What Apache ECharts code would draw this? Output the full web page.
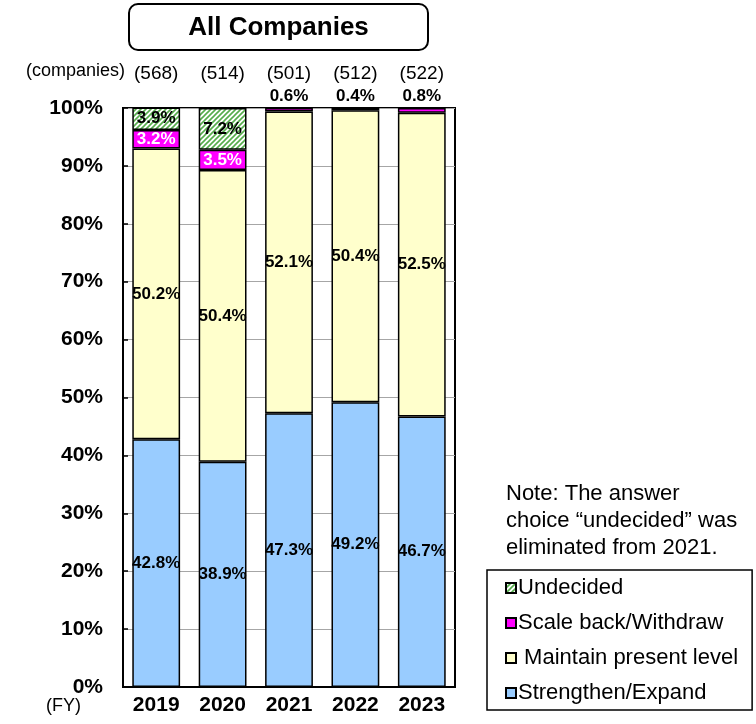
<!DOCTYPE html>
<html>
<head>
<meta charset="utf-8">
<script src="https://cdn.jsdelivr.net/npm/echarts@6/dist/echarts.min.js"></script>
<style>
  html, body { margin: 0; padding: 0; background: #fff; }
  #chart { width: 756px; height: 724px; }
</style>
</head>
<body>
<div id="chart"></div>
<script>
// Survey years and number of responding companies
const years = ['2019', '2020', '2021', '2022', '2023'];
const companyCounts = ['(568)', '(514)', '(501)', '(512)', '(522)'];

// Share of companies by intended business direction (%)
const strengthenExpand = [42.8, 38.9, 47.3, 49.2, 46.7];
const maintainLevel = [50.2, 50.4, 52.1, 50.4, 52.5];
const scaleBackWithdraw = [3.2, 3.5, 0.6, 0.4, 0.8];
const undecided = [3.9, 7.2, null, null, null]; // option dropped from 2021

const yTicks = [0, 10, 20, 30, 40, 50, 60, 70, 80, 90, 100];

const FONT = "'Liberation Sans', Arial, sans-serif";

// Green diagonal hatch used for the "Undecided" segment
function hatchPattern() {
  const s = 5;
  const c = document.createElement('canvas');
  c.width = s; c.height = s;
  const g = c.getContext('2d');
  g.fillStyle = '#ffffff';
  g.fillRect(0, 0, s, s);
  g.strokeStyle = '#56ad4c';
  g.lineWidth = 1.6;
  g.beginPath();
  g.moveTo(-1, s + 1); g.lineTo(s + 1, -1);
  g.moveTo(-1, 1); g.lineTo(1, -1);
  g.moveTo(s - 1, s + 1); g.lineTo(s + 1, s - 1);
  g.stroke();
  return { image: c, repeat: 'repeat' };
}

const pct = v => (v == null ? '' : v.toFixed(1) + '%');

const baseLabel = {
  show: true,
  position: 'inside',
  color: '#000',
  fontFamily: FONT,
  fontWeight: 'bold',
  fontSize: 17,
  formatter: p => pct(p.value)
};

const barStyle = (color) => ({ color: color, borderColor: '#000', borderWidth: 1.5 });

// Small shares are labelled above the bar, larger ones inside in white
const scaleBackData = scaleBackWithdraw.map(v => (
  v < 2
    ? { value: v, label: { position: 'top', color: '#000', distance: 3 } }
    : { value: v, label: { position: 'inside', color: '#fff' } }
));

const chart = echarts.init(document.getElementById('chart'), null, { renderer: 'canvas' });

chart.setOption({
  animation: false,
  backgroundColor: '#fff',
  textStyle: { fontFamily: FONT },
  grid: {
    left: 123, right: 301, top: 108, bottom: 37,
    show: true, borderColor: '#000', borderWidth: 2, backgroundColor: 'transparent'
  },
  legend: {
    orient: 'vertical',
    left: 487, top: 570,
    padding: [7, 14, 6, 18],
    borderColor: '#000', borderWidth: 1.5,
    itemWidth: 10, itemHeight: 10, itemGap: 13,
    icon: 'rect',
    data: ['Undecided', 'Scale back/Withdraw', 'Maintain present level', 'Strengthen/Expand'],
    formatter: name => (name === 'Maintain present level' ? ' ' + name : name),
    textStyle: { fontFamily: FONT, fontSize: 22, lineHeight: 22, color: '#000', padding: [0, 0, 0, -3] }
  },
  xAxis: [
    {
      type: 'category',
      data: years,
      position: 'bottom',
      axisLine: { lineStyle: { color: '#000', width: 2 } },
      axisTick: { inside: true, length: 6, lineStyle: { color: '#000', width: 1.5 } },
      axisLabel: { color: '#000', fontFamily: FONT, fontWeight: 'bold', fontSize: 21, margin: 8 }
    },
    {
      type: 'category',
      data: companyCounts,
      position: 'top',
      axisLine: { show: false },
      axisTick: { show: false },
      splitLine: { show: false },
      axisLabel: { color: '#000', fontFamily: FONT, fontSize: 19, margin: 25 }
    }
  ],
  yAxis: {
    type: 'value',
    min: yTicks[0], max: yTicks[yTicks.length - 1], interval: 10,
    axisLine: { show: true, lineStyle: { color: '#000', width: 2 } },
    axisTick: { show: true, inside: true, length: 5, lineStyle: { color: '#000', width: 1.5 } },
    splitLine: { show: true, lineStyle: { color: '#a6a6a6', width: 1 } },
    axisLabel: {
      color: '#000', fontFamily: FONT, fontWeight: 'bold', fontSize: 21, margin: 20,
      formatter: '{value}%'
    }
  },
  series: [
    {
      name: 'Strengthen/Expand', type: 'bar', stack: 'all', barWidth: '72%',
      data: strengthenExpand, itemStyle: barStyle('#99ccff'), label: baseLabel
    },
    {
      name: 'Maintain present level', type: 'bar', stack: 'all', barWidth: '72%',
      data: maintainLevel, itemStyle: barStyle('#ffffcc'), label: baseLabel
    },
    {
      name: 'Scale back/Withdraw', type: 'bar', stack: 'all', barWidth: '72%',
      data: scaleBackData, itemStyle: barStyle('#ff00ff'), label: baseLabel
    },
    {
      name: 'Undecided', type: 'bar', stack: 'all', barWidth: '72%',
      data: undecided, itemStyle: barStyle(hatchPattern()), label: baseLabel
    }
  ],
  graphic: [
    {
      type: 'group', left: 128, top: 3,
      children: [
        { type: 'rect', shape: { x: 0, y: 0, width: 299, height: 46, r: 9 },
          style: { fill: '#fff', stroke: '#000', lineWidth: 2 } },
        { type: 'text', x: 149.5, y: 24,
          style: { text: 'All Companies', font: 'bold 26px ' + FONT, fill: '#000',
                   textAlign: 'center', textVerticalAlign: 'middle' } }
      ]
    },
    {
      type: 'text', left: 26, top: 62,
      style: { text: '(companies)', font: '18px ' + FONT, fill: '#000' }
    },
    {
      type: 'text', left: 46, top: 697,
      style: { text: '(FY)', font: '18px ' + FONT, fill: '#000' }
    },
    {
      type: 'text', left: 506, top: 480,
      style: {
        text: 'Note: The answer\nchoice \u201cundecided\u201d was\neliminated from 2021.',
        font: '22px ' + FONT, lineHeight: 27, fill: '#000'
      }
    }
  ]
});
</script>
</body>
</html>
